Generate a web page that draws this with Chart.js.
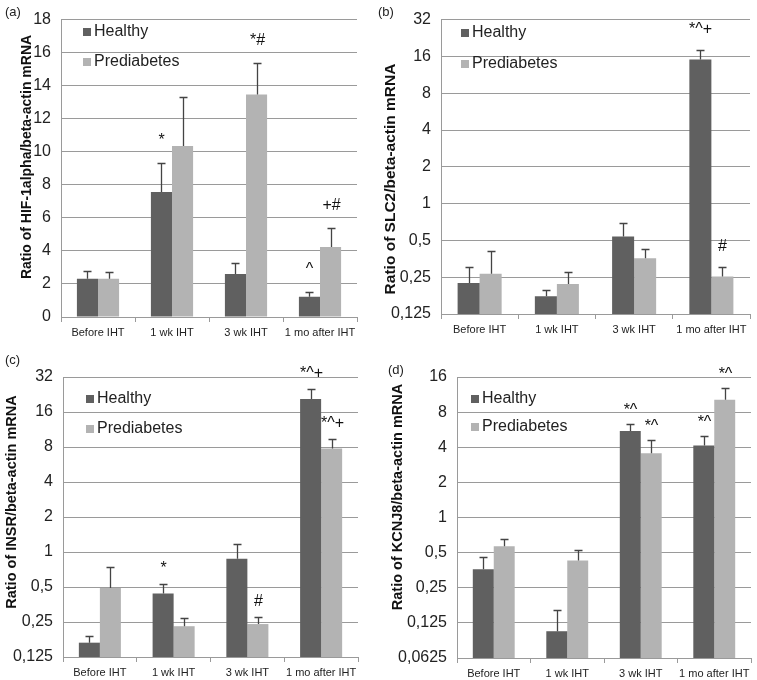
<!DOCTYPE html>
<html lang="en">
<head>
<meta charset="UTF-8" />
<title>Ratio of mRNA to beta-actin, healthy vs prediabetes</title>
<style>
  body { margin: 0; background: #fff; }
  #wrap { position: relative; width: 757px; height: 680px; }
  #wrap canvas { position: absolute; }
</style>
</head>
<body>
<div id="wrap">
  <canvas id="chartA" width="378" height="340" style="left:0px;top:0px"></canvas>
  <canvas id="chartB" width="379" height="340" style="left:378px;top:0px"></canvas>
  <canvas id="chartC" width="378" height="340" style="left:0px;top:340px"></canvas>
  <canvas id="chartD" width="379" height="340" style="left:378px;top:340px"></canvas>
</div>

<script src="https://cdn.jsdelivr.net/npm/chart.js@4.4.0/dist/chart.umd.min.js"></script>
<script>
const categories = ['Before IHT', '1 wk IHT', '3 wk IHT', '1 mo after IHT'];
const seriesNames = ['Healthy', 'Prediabetes'];

// (a) HIF-1alpha, linear axis
const hifHealthy = [2.32, 7.57, 2.6, 1.23];
const hifHealthyErr = [0.47, 1.75, 0.65, 0.27];
const hifPre = [2.32, 10.35, 13.46, 4.24];
const hifPreErr = [0.41, 2.97, 1.94, 1.13];
const hifHealthyNotes = ['', '*', '', '^'];
const hifPreNotes = ['', '', '*#', '+#'];
const hifTicks = [0, 2, 4, 6, 8, 10, 12, 14, 16, 18];

// (b) SLC2, log2 axis
const slcHealthy = [0.224, 0.175, 0.539, 15.1];
const slcHealthyErr = [0.081, 0.021, 0.151, 2.9];
const slcPre = [0.267, 0.22, 0.358, 0.253];
const slcPreErr = [0.14, 0.054, 0.064, 0.052];
const slcHealthyNotes = ['', '', '', '*^+'];
const slcPreNotes = ['', '', '', '#'];

// (c) INSR, log2 axis
const insrHealthy = [0.166, 0.44, 0.874, 20.7];
const insrHealthyErr = [0.024, 0.086, 0.306, 4.6];
const insrPre = [0.489, 0.23, 0.24, 7.76];
const insrPreErr = [0.261, 0.041, 0.035, 1.58];
const insrHealthyNotes = ['', '*', '', '*^+'];
const insrPreNotes = ['', '', '#', '*^+'];

// (d) KCNJ8, log2 axis
const kcnHealthy = [0.361, 0.106, 5.5, 4.14];
const kcnHealthyErr = [0.1, 0.054, 0.82, 0.9];
const kcnPre = [0.566, 0.429, 3.56, 10.2];
const kcnPreErr = [0.092, 0.1, 1.07, 2.57];
const kcnHealthyNotes = ['', '', '*^', '*^'];
const kcnPreNotes = ['', '', '*^', '*^'];

const logTicks = [0.125, 0.25, 0.5, 1, 2, 4, 8, 16, 32];
const logTicksD = [0.0625, 0.125, 0.25, 0.5, 1, 2, 4, 8, 16];

const FONT = "'Liberation Sans', Arial, sans-serif";
const DARK = '#606060';
const LIGHT = '#b3b3b3';
const GRID = '#9a9a9a';

Chart.defaults.font.family = FONT;
Chart.defaults.color = '#222';

// error bars, significance marks, legend, panel letter and y title
const extras = {
  id: 'extras',
  afterDraw(chart) {
    const o = chart.options.plugins.extras;
    const ctx = chart.ctx;
    const y = chart.scales.y;
    ctx.save();

    chart.data.datasets.forEach((ds, i) => {
      chart.getDatasetMeta(i).data.forEach((bar, j) => {
        const top = Math.round(y.getPixelForValue(ds.data[j] + ds.err[j])) + 0.5;
        const x = Math.round(bar.x) + 0.5;
        ctx.strokeStyle = '#444';
        ctx.lineWidth = 1.3;
        ctx.beginPath();
        ctx.moveTo(x, bar.y);
        ctx.lineTo(x, top);
        ctx.moveTo(x - 4, top);
        ctx.lineTo(x + 4, top);
        ctx.stroke();
        if (ds.notes[j]) {
          ctx.fillStyle = '#111';
          ctx.font = '16px ' + FONT;
          ctx.textAlign = 'center';
          ctx.textBaseline = 'alphabetic';
          ctx.fillText(ds.notes[j], x, top - o.noteGap);
        }
      });
    });

    // legend inside the plot
    ctx.font = '16px ' + FONT;
    ctx.textAlign = 'left';
    ctx.textBaseline = 'middle';
    chart.data.datasets.forEach((ds, i) => {
      const ly = o.legendY[i];
      ctx.fillStyle = ds.backgroundColor;
      ctx.fillRect(o.legendX, ly - 4, 8, 8);
      ctx.fillStyle = '#222';
      ctx.fillText(ds.label, o.legendX + 11, ly);
    });

    // panel letter
    ctx.font = '13px ' + FONT;
    ctx.fillStyle = '#222';
    ctx.fillText(o.letter, o.letterX, o.letterY);

    // y axis title
    ctx.translate(o.titleX, o.titleY);
    ctx.rotate(-Math.PI / 2);
    ctx.font = 'bold ' + o.titleSize + 'px ' + FONT;
    ctx.textAlign = 'center';
    ctx.fillStyle = '#111';
    ctx.fillText(o.title, 0, 0);

    ctx.restore();
  }
};

function makeChart(id, p) {
  const canvas = document.getElementById(id);
  const W = canvas.width, H = canvas.height;
  const yScale = p.log
    ? {
        type: 'logarithmic',
        min: p.ticks[0],
        max: p.ticks[p.ticks.length - 1],
        afterBuildTicks: s => { s.ticks = p.ticks.map(v => ({ value: v })); }
      }
    : { type: 'linear', min: p.ticks[0], max: p.ticks[p.ticks.length - 1], ticks: { stepSize: 2 } };

  Object.assign(yScale, {
    afterFit: s => { s.width = p.area.left; },
    border: { display: true, color: GRID, width: 1 },
    grid: { color: GRID, lineWidth: 1, drawTicks: false },
    ticks: Object.assign({}, yScale.ticks, {
      padding: 10,
      color: '#222',
      font: { size: 16 },
      callback: v => String(v).replace('.', ',')
    })
  });

  return new Chart(canvas, {
    type: 'bar',
    data: {
      labels: categories,
      datasets: [
        { label: seriesNames[0], data: p.healthy, err: p.healthyErr, notes: p.healthyNotes, backgroundColor: DARK },
        { label: seriesNames[1], data: p.pre, err: p.preErr, notes: p.preNotes, backgroundColor: LIGHT }
      ]
    },
    options: {
      responsive: false,
      animation: false,
      devicePixelRatio: 1,
      categoryPercentage: 0.57,
      barPercentage: 1,
      layout: { padding: { top: p.area.top, right: W - p.area.right, left: 0, bottom: 0 } },
      scales: {
        x: {
          afterFit: s => { s.height = H - p.area.bottom; },
          border: { display: true, color: GRID, width: 1 },
          grid: { drawOnChartArea: false, color: GRID, tickLength: 5, offset: true },
          ticks: { padding: 4, color: '#222', font: { size: 11 }, maxRotation: 0, autoSkip: false }
        },
        y: yScale
      },
      plugins: {
        legend: { display: false },
        tooltip: { enabled: false },
        extras: p.extras
      }
    },
    plugins: [extras]
  });
}

makeChart('chartA', {
  log: false, ticks: hifTicks,
  healthy: hifHealthy, healthyErr: hifHealthyErr, healthyNotes: hifHealthyNotes,
  pre: hifPre, preErr: hifPreErr, preNotes: hifPreNotes,
  area: { left: 61, right: 357, top: 19, bottom: 317 },
  extras: { noteGap: 19, legendX: 83, legendY: [32, 62], letter: '(a)', letterX: 5, letterY: 12,
            title: 'Ratio of HIF-1alpha/beta-actin mRNA', titleSize: 14, titleX: 27, titleY: 157 }
});

makeChart('chartB', {
  log: true, ticks: logTicks,
  healthy: slcHealthy, healthyErr: slcHealthyErr, healthyNotes: slcHealthyNotes,
  pre: slcPre, preErr: slcPreErr, preNotes: slcPreNotes,
  area: { left: 63, right: 372, top: 18, bottom: 314 },
  extras: { noteGap: 17, legendX: 83, legendY: [33, 64], letter: '(b)', letterX: 0, letterY: 12,
            title: 'Ratio of SLC2/beta-actin mRNA', titleSize: 15.5, titleX: 13, titleY: 179 }
});

makeChart('chartC', {
  log: true, ticks: logTicks,
  healthy: insrHealthy, healthyErr: insrHealthyErr, healthyNotes: insrHealthyNotes,
  pre: insrPre, preErr: insrPreErr, preNotes: insrPreNotes,
  area: { left: 63, right: 358, top: 37, bottom: 317 },
  extras: { noteGap: 12, legendX: 86, legendY: [59, 89], letter: '(c)', letterX: 5, letterY: 20,
            title: 'Ratio of INSR/beta-actin mRNA', titleSize: 14.5, titleX: 12, titleY: 162 }
});

makeChart('chartD', {
  log: true, ticks: logTicksD,
  healthy: kcnHealthy, healthyErr: kcnHealthyErr, healthyNotes: kcnHealthyNotes,
  pre: kcnPre, preErr: kcnPreErr, preNotes: kcnPreNotes,
  area: { left: 79, right: 373, top: 37, bottom: 318 },
  extras: { noteGap: 10, legendX: 93, legendY: [59, 87], letter: '(d)', letterX: 10, letterY: 30,
            title: 'Ratio of KCNJ8/beta-actin mRNA', titleSize: 14.5, titleX: 20, titleY: 157 }
});
</script>
</body>
</html>
